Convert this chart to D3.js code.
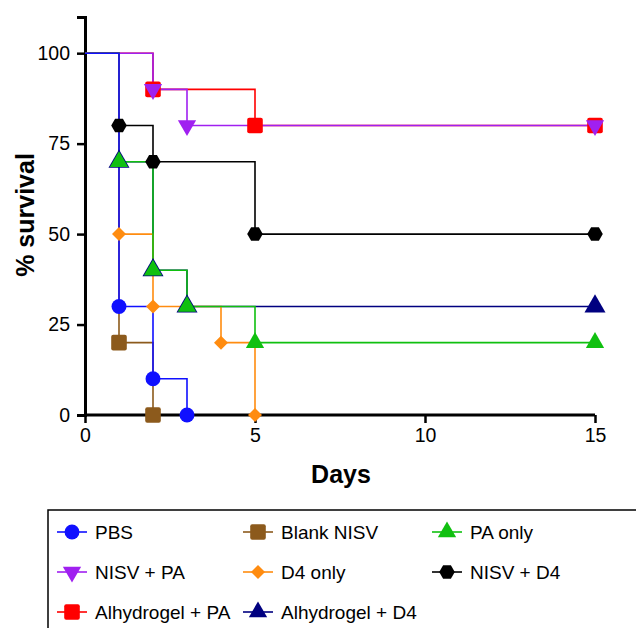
<!DOCTYPE html>
<html>
<head>
<meta charset="utf-8">
<script src="https://cdn.jsdelivr.net/npm/d3@7"></script>
<style>
  body { margin: 0; background: #fff; }
  text { font-family: "Liberation Sans", Arial, sans-serif; }
</style>
</head>
<body>
<script>
var width = 636;
var height = 628;

// survival data, one array pair per group
var groups = ["PBS", "Blank NISV", "PA only", "NISV + PA", "D4 only", "NISV + D4", "Alhydrogel + PA", "Alhydrogel + D4"];
var colors = ["#1010ff", "#8c5a1c", "#10c010", "#a020f0", "#ff8c10", "#000000", "#ff0000", "#000080"];
var shapes = ["circle", "square", "triangle", "triangleDown", "diamond", "hexagon", "square", "triangle"];
var days = [
    [0, 1, 2, 3],
    [0, 1, 2],
    [0, 1, 2, 3, 5, 15],
    [0, 2, 3, 15],
    [0, 1, 2, 4, 5],
    [0, 1, 2, 5, 15],
    [0, 2, 5, 15],
    [0, 1, 2, 3, 15]
];
var survival = [
    [100, 30, 10, 0],
    [100, 20, 0],
    [100, 70, 40, 30, 20, 20],
    [100, 90, 80, 80],
    [100, 50, 30, 20, 0],
    [100, 80, 70, 50, 50],
    [100, 90, 80, 80],
    [100, 70, 40, 30, 30]
];
var xTicks = [0, 5, 10, 15];
var yTicks = [0, 25, 50, 75, 100];

var svg = d3.select("body")
    .append("svg")
    .attr("width", width)
    .attr("height", height);

var x = d3.scaleLinear().domain([0, 15]).range([85, 595]);
var y = d3.scaleLinear().domain([0, 110]).range([415, 17]);

function markerPath(shape, s) {
    s = s || 1;
    if (shape == "circle") return d3.symbol(d3.symbolCircle, 175 * s * s)();
    if (shape == "triangle") return d3.symbol(d3.symbolTriangle, 145 * s * s)();
    if (shape == "triangleDown") return d3.symbol(d3.symbolTriangle, 145 * s * s)();
    if (shape == "diamond") {
        var r = 7 * s;
        return "M0," + (-r) + "L" + r + ",0L0," + r + "L" + (-r) + ",0Z";
    }
    if (shape == "hexagon") {
        var h = 7.8 * s, pts = [];
        for (var i = 0; i < 6; i++) {
            var a = Math.PI / 3 * i;
            pts.push([h * Math.cos(a), h * Math.sin(a)]);
        }
        return "M" + pts.join("L") + "Z";
    }
    // rounded square
    var q = 7.8 * s, c = 2;
    return "M" + (-q + c) + "," + (-q) + "H" + (q - c) + "Q" + q + "," + (-q) + " " + q + "," + (-q + c) +
        "V" + (q - c) + "Q" + q + "," + q + " " + (q - c) + "," + q + "H" + (-q + c) +
        "Q" + (-q) + "," + q + " " + (-q) + "," + (q - c) + "V" + (-q + c) + "Q" + (-q) + "," + (-q) + " " + (-q + c) + "," + (-q) + "Z";
}

function rot(shape) {
    return shape == "triangleDown" ? " rotate(180)" : "";
}

var series = groups.map(function(name, i) {
    return {
        name: name, color: colors[i], shape: shapes[i],
        pts: days[i].map(function(d, j) { return [d, survival[i][j]]; })
    };
});

// axes
var xAxis = svg.append("g")
    .attr("transform", "translate(0," + y(0) + ")")
    .call(d3.axisBottom(x).tickValues(xTicks).tickSize(8).tickPadding(5));
var yAxis = svg.append("g")
    .attr("transform", "translate(" + x(0) + ",0)")
    .call(d3.axisLeft(y).tickValues(yTicks).tickSize(8).tickPadding(7));

[xAxis, yAxis].forEach(function(a) {
    a.select(".domain").attr("stroke", "#000").attr("stroke-width", 3);
    a.selectAll(".tick line").attr("stroke", "#000").attr("stroke-width", 2.5);
    a.selectAll(".tick text").attr("fill", "#000").style("font-size", "19.5px")
        .style("font-family", "'Liberation Sans', Arial, sans-serif");
});
xAxis.select(".domain").attr("d", "M" + x(0) + ",0H" + x(15));

svg.append("text")
    .attr("x", 341).attr("y", 483)
    .attr("text-anchor", "middle")
    .style("font-size", "25px").style("font-weight", "bold")
    .text("Days");
svg.append("text")
    .attr("transform", "translate(34,215) rotate(-90)")
    .attr("text-anchor", "middle")
    .style("font-size", "25px").style("font-weight", "bold")
    .text("% survival");

// step lines (last group drawn first)
var line = d3.line()
    .x(function(d) { return x(d[0]); })
    .y(function(d) { return y(d[1]); })
    .curve(d3.curveStepAfter);

var order = series.slice().reverse();

svg.append("g").selectAll("path")
    .data(order)
    .enter()
    .append("path")
    .attr("fill", "none")
    .attr("stroke", function(d) { return d.color; })
    .attr("stroke-width", 1.6)
    .attr("d", function(d) { return line(d.pts); });

// markers
order.forEach(function(s) {
    svg.append("g").selectAll("path")
        .data(s.pts.slice(1))
        .enter()
        .append("path")
        .attr("d", markerPath(s.shape, s.name == "Alhydrogel + D4" ? 1.15 : 1))
        .attr("transform", function(d) { return "translate(" + x(d[0]) + "," + y(d[1]) + ")" + rot(s.shape); })
        .attr("fill", s.color);
});

// legend
var legend = svg.append("g");
legend.append("rect")
    .attr("x", 48).attr("y", 510)
    .attr("width", 620).attr("height", 140)
    .attr("fill", "none").attr("stroke", "#000").attr("stroke-width", 1.5);

var colX = [72, 258, 447];
var rowY = [532, 572, 612];

series.forEach(function(s, i) {
    var lx = colX[i % 3], ly = rowY[Math.floor(i / 3)];
    var item = legend.append("g").attr("transform", "translate(" + lx + "," + ly + ")");
    item.append("line")
        .attr("x1", -15).attr("x2", 15)
        .attr("stroke", s.color).attr("stroke-width", 1.6);
    item.append("path")
        .attr("d", markerPath(s.shape))
        .attr("transform", rot(s.shape))
        .attr("fill", s.color);
    item.append("text")
        .attr("x", 23).attr("y", 7)
        .style("font-size", "19px")
        .text(s.name);
});
</script>
</body>
</html>
